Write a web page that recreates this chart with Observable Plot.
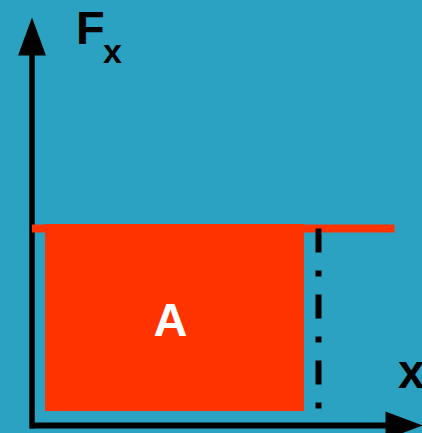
<!DOCTYPE html>
<html>
<head>
<meta charset="utf-8">
<script src="https://cdn.jsdelivr.net/npm/d3@7"></script>
<script src="https://cdn.jsdelivr.net/npm/@observablehq/plot@0.6"></script>
<style>
  html, body { margin: 0; padding: 0; background: #2ba2c1; overflow: hidden; }
  #chart svg { display: block; }
</style>
</head>
<body>
<div id="chart"></div>
<script>
// Coordinate space: origin at the axis corner, y upward.
const xDomain = [-31.5, 390.5];
const yDomain = [-8, 425];

// Axes shafts
const yAxisShaft = [{x: 0, y: -3}, {x: 0, y: 372}];
const xAxisShaft = [{x: -2, y: 0}, {x: 355, y: 0}];
// Arrow heads (triangles)
const yArrowHead = [{x: -14, y: 370}, {x: 0, y: 408}, {x: 14, y: 370}];
const xArrowHead = [{x: 353.5, y: 14}, {x: 390.5, y: 0}, {x: 353.5, y: -14}];

// Constant force line and work area
const forceLine = [{x: 0, y: 197}, {x: 362.5, y: 197}];
const workArea = [{x1: 13.5, x2: 272.5, y1: 14, y2: 201}];
// Displacement marker (dash-dot)
const displacement = [{x: 286.5, y: 197}, {x: 286.5, y: 17}];

// Labels
const labels = [
  {text: "F", x: 44, y: 382, size: 47, anchor: "start"},
  {text: "x", x: 71, y: 363, size: 34, anchor: "start"},
  {text: "x", x: 366, y: 38, size: 48, anchor: "start"}
];
const areaLabel = [{text: "A", x: 138.5, y: 90}];

const chart = Plot.plot({
  width: 422,
  height: 433,
  margin: 0,
  style: {background: "#2ba2c1", fontFamily: "'Liberation Sans', Arial, sans-serif"},
  x: {domain: xDomain, axis: null},
  y: {domain: yDomain, axis: null},
  marks: [
    Plot.rect(workArea, {x1: "x1", x2: "x2", y1: "y1", y2: "y2", fill: "#ff3300"}),
    Plot.line(yAxisShaft, {x: "x", y: "y", stroke: "black", strokeWidth: 5.5, strokeLinecap: "butt"}),
    Plot.line(xAxisShaft, {x: "x", y: "y", stroke: "black", strokeWidth: 6, strokeLinecap: "butt"}),
    Plot.line(yArrowHead, {x: "x", y: "y", fill: "black", stroke: "none"}),
    Plot.line(xArrowHead, {x: "x", y: "y", fill: "black", stroke: "none"}),
    Plot.line(forceLine, {x: "x", y: "y", stroke: "#ff3300", strokeWidth: 8, strokeLinecap: "butt"}),
    Plot.line(displacement, {x: "x", y: "y", stroke: "black", strokeWidth: 6, strokeLinecap: "butt", strokeDasharray: "24,18,6,18"}),
    Plot.text(labels, {x: "x", y: "y", text: "text", fontSize: d => d.size, textAnchor: "start", lineAnchor: "bottom", fontWeight: "bold", fill: "black"}),
    Plot.text(areaLabel, {x: "x", y: "y", text: "text", fontSize: 47, textAnchor: "middle", lineAnchor: "bottom", fontWeight: "bold", fill: "white"})
  ]
});
document.getElementById("chart").appendChild(chart);
</script>
</body>
</html>
